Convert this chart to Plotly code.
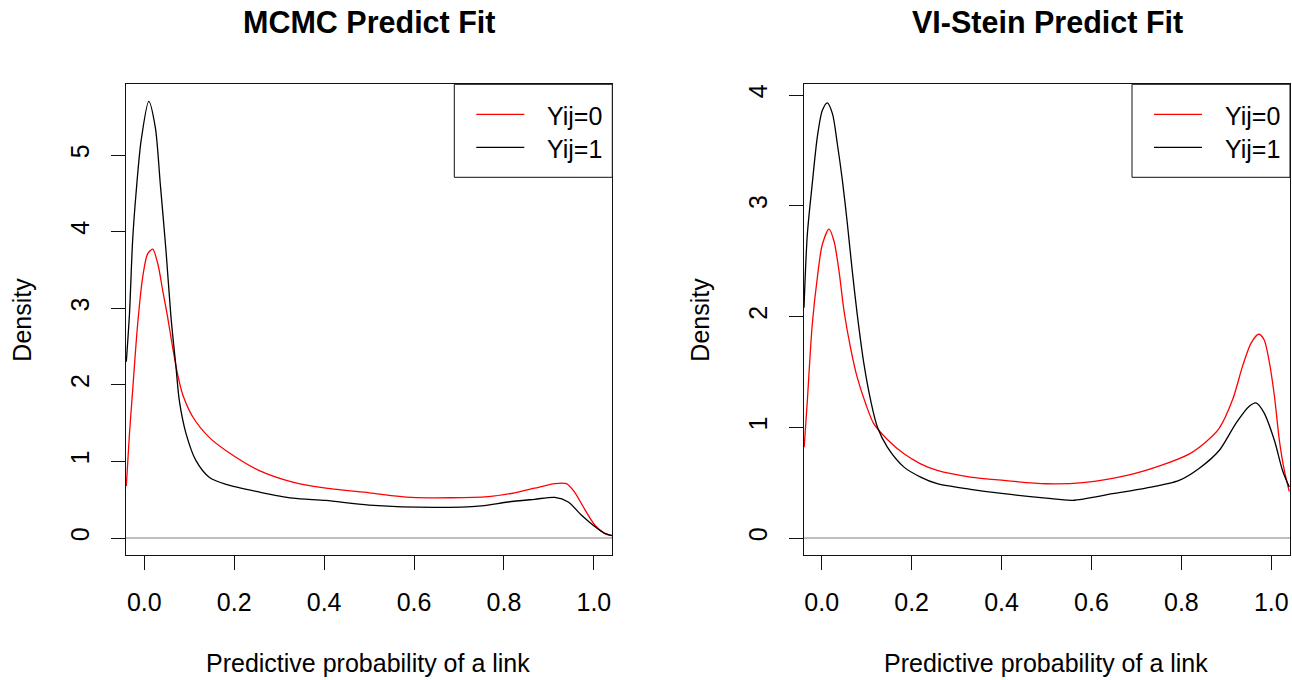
import plotly.graph_objects as go

# ---- density curves: predictive probability of a link ----
# MCMC panel
mcmc_y0_x = [-0.040, -0.033, -0.026, -0.0148, -0.0037, 0.0074, 0.0186, 0.030, 0.041, 0.052,
             0.063, 0.074, 0.085, 0.108, 0.145, 0.182, 0.256, 0.330, 0.404, 0.500,
             0.594, 0.765, 0.824, 0.868, 0.913, 0.939, 0.957, 0.980, 1.002, 1.024, 1.040]
mcmc_y0_d = [0.68, 1.36, 1.92, 2.79, 3.40, 3.71, 3.77, 3.58, 3.23, 2.88,
             2.49, 2.14, 1.88, 1.58, 1.31, 1.14, 0.88, 0.73, 0.65, 0.59,
             0.53, 0.54, 0.59, 0.65, 0.71, 0.71, 0.60, 0.37, 0.17, 0.06, 0.03]

mcmc_y1_x = [-0.040, -0.033, -0.026, -0.0185, -0.007, 0.010, 0.0245, 0.0356, 0.0483, 0.0594,
             0.0705, 0.078, 0.093, 0.115, 0.145, 0.182, 0.256, 0.330, 0.404, 0.500,
             0.646, 0.750, 0.809, 0.868, 0.913, 0.943, 0.972, 1.002, 1.024, 1.040]
mcmc_y1_d = [2.30, 2.92, 3.88, 4.49, 5.19, 5.70, 5.36, 4.62, 3.75, 2.88,
             2.23, 1.79, 1.36, 1.01, 0.79, 0.70, 0.60, 0.52, 0.49, 0.43,
             0.40, 0.42, 0.47, 0.505, 0.53, 0.47, 0.30, 0.15, 0.06, 0.03]

# VI-Stein panel
vi_y0_x = [-0.039, -0.032, -0.021, -0.0098, 0.0013, 0.0163, 0.0274, 0.0385, 0.0496, 0.064,
           0.079, 0.098, 0.116, 0.146, 0.183, 0.220, 0.257, 0.331, 0.405, 0.499,
           0.581, 0.684, 0.758, 0.818, 0.855, 0.884, 0.914, 0.936, 0.955, 0.972,
           0.984, 0.996, 1.007, 1.018, 1.029, 1.040]
vi_y0_d = [0.82, 1.24, 1.93, 2.35, 2.65, 2.79, 2.68, 2.41, 2.05, 1.72,
           1.45, 1.21, 1.03, 0.89, 0.76, 0.67, 0.61, 0.55, 0.52, 0.49,
           0.50, 0.57, 0.66, 0.76, 0.87, 0.99, 1.25, 1.55, 1.76, 1.84,
           1.79, 1.58, 1.28, 0.88, 0.61, 0.42]

vi_y1_x = [-0.0394, -0.032, -0.021, -0.0098, 0.0013, 0.0125, 0.024, 0.0347, 0.046, 0.057,
           0.068, 0.079, 0.094, 0.109, 0.124, 0.146, 0.183, 0.220, 0.257, 0.331,
           0.405, 0.499, 0.558, 0.647, 0.721, 0.795, 0.840, 0.884, 0.922, 0.951,
           0.966, 0.984, 1.007, 1.025, 1.040]
vi_y1_d = [2.08, 2.74, 3.20, 3.62, 3.86, 3.93, 3.83, 3.56, 3.23, 2.84,
           2.41, 2.02, 1.57, 1.24, 1.00, 0.82, 0.64, 0.55, 0.49, 0.44,
           0.40, 0.36, 0.34, 0.40, 0.45, 0.52, 0.63, 0.79, 1.04, 1.19,
           1.22, 1.13, 0.88, 0.61, 0.46]

titles = ["MCMC Predict Fit", "VI-Stein Predict Fit"]
series_names = ["Yij=0", "Yij=1"]
series_colors = ["#FF0000", "#000000"]
x_ticks = [0.0, 0.2, 0.4, 0.6, 0.8, 1.0]
y_ticks_mcmc = [0, 1, 2, 3, 4, 5]
y_ticks_vi = [0, 1, 2, 3, 4]
x_label = "Predictive probability of a link"
y_label = "Density"

W, H = 1292, 680
FONT = "Liberation Sans, Arial, Helvetica, sans-serif"
FS = 25


def fx(px):
    return px / W


def fy(py):
    return 1 - py / H


fig = go.Figure()

panels = [
    ("x", "y", [(mcmc_y0_x, mcmc_y0_d), (mcmc_y1_x, mcmc_y1_d)]),
    ("x2", "y2", [(vi_y0_x, vi_y0_d), (vi_y1_x, vi_y1_d)]),
]
for xa, ya, curves in panels:
    for (xs, ds), name, col in zip(curves, series_names, series_colors):
        fig.add_trace(go.Scatter(
            x=xs, y=ds, mode="lines", name=name, xaxis=xa, yaxis=ya,
            line=dict(color=col, width=1.3, shape="spline", smoothing=0.8),
            showlegend=False, hoverinfo="skip",
        ))

# plot boxes in pixels
box_l = [(126, 612.3), (804, 1290)]
box_top, box_bot = 84.3, 555

axis_common = dict(
    showline=True, mirror=True, linecolor="#111", linewidth=1,
    ticks="outside", ticklen=14, tickwidth=1, tickcolor="#111",
    showgrid=False, tickfont=dict(family=FONT, size=FS, color="#000"),
)

fig.update_layout(
    width=W, height=H,
    margin=dict(l=0, r=0, t=0, b=0),
    paper_bgcolor="white", plot_bgcolor="white",
    showlegend=False,
    font=dict(family=FONT, size=FS, color="#000"),
    xaxis=dict(domain=[fx(box_l[0][0]), fx(box_l[0][1])], range=[-0.0407, 1.041],
               tickvals=x_ticks, ticktext=[f"{v:.1f}" for v in x_ticks],
               zeroline=False, anchor="y", ticklabelstandoff=11, **axis_common),
    yaxis=dict(domain=[fy(box_bot), fy(box_top)], range=[-0.222, 5.923],
               tickvals=y_ticks_mcmc, ticktext=[str(v) for v in y_ticks_mcmc],
               tickangle=-90, zeroline=True, zerolinecolor="#BEBEBE", zerolinewidth=1.5,
               anchor="x", ticklabelstandoff=12, **axis_common),
    xaxis2=dict(domain=[fx(box_l[1][0]), fx(box_l[1][1])], range=[-0.0394, 1.0416],
                tickvals=x_ticks, ticktext=[f"{v:.1f}" for v in x_ticks],
                zeroline=False, anchor="y2", ticklabelstandoff=11, **axis_common),
    yaxis2=dict(domain=[fy(box_bot), fy(box_top)], range=[-0.1535, 4.097],
                tickvals=y_ticks_vi, ticktext=[str(v) for v in y_ticks_vi],
                tickangle=-90, zeroline=True, zerolinecolor="#BEBEBE", zerolinewidth=1.5,
                anchor="x2", ticklabelstandoff=12, **axis_common),
)

annotations = []
shapes = []
for i, (l, r) in enumerate(box_l):
    cx = (l + r) / 2
    # panel title
    annotations.append(dict(text=f"<b>{titles[i]}</b>", x=fx(cx), y=fy(22),
                            xref="paper", yref="paper", showarrow=False,
                            xanchor="center", yanchor="middle",
                            font=dict(family=FONT, size=30.5, color="#000")))
    # axis titles
    annotations.append(dict(text=x_label, x=fx(cx - 1.5), y=fy(663), xref="paper", yref="paper",
                            showarrow=False, xanchor="center", yanchor="middle",
                            font=dict(family=FONT, size=FS, color="#000")))
    annotations.append(dict(text=y_label, x=fx(l - 104), y=fy((box_top + box_bot) / 2),
                            xref="paper", yref="paper", showarrow=False, textangle=-90,
                            xanchor="center", yanchor="middle",
                            font=dict(family=FONT, size=FS, color="#000")))
    # legend box in the top-right corner
    lg_l = r - 158
    shapes.append(dict(type="rect", xref="paper", yref="paper",
                       x0=fx(lg_l), x1=fx(r), y0=fy(177.3), y1=fy(box_top),
                       line=dict(color="#111", width=1), fillcolor="white"))
    for k, (name, col) in enumerate(zip(series_names, series_colors)):
        ly = 114.3 + 33 * k
        shapes.append(dict(type="line", xref="paper", yref="paper",
                           x0=fx(lg_l + 22), x1=fx(lg_l + 70), y0=fy(ly), y1=fy(ly),
                           line=dict(color=col, width=1.3)))
        annotations.append(dict(text=name, x=fx(lg_l + 91), y=fy(ly + 2),
                                xref="paper", yref="paper", showarrow=False,
                                xanchor="left", yanchor="middle",
                                font=dict(family=FONT, size=FS, color="#000")))

fig.update_layout(annotations=annotations, shapes=shapes)

fig.write_html("out.html")
